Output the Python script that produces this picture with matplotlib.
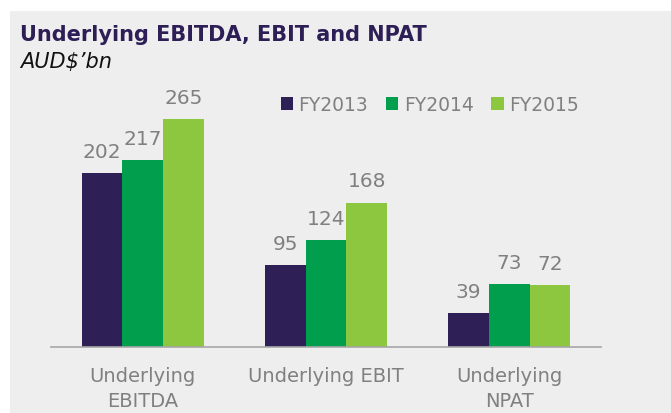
import matplotlib
matplotlib.use("Agg")
import matplotlib.pyplot as plt
from matplotlib.patches import Rectangle
import numpy as np

categories = ["Underlying\nEBITDA", "Underlying EBIT", "Underlying\nNPAT"]
series_names = ["FY2013", "FY2014", "FY2015"]
fy2013 = [202, 95, 39]
fy2014 = [217, 124, 73]
fy2015 = [265, 168, 72]
colors = ["#2e1f56", "#009e4d", "#8dc63f"]

W, H = 671, 414
fig = plt.figure(figsize=(W / 100, H / 100), dpi=100)
fig.patch.set_facecolor("white")
bg = Rectangle((10 / W, 0), 1, (H - 12) / H, transform=fig.transFigure,
               facecolor="#eeeeee", edgecolor="none", zorder=-10)
fig.add_artist(bg)

ax = fig.add_axes([51 / W, (H - 348) / H, 550 / W, 258 / H])
ax.set_facecolor("none")
ax.set_zorder(1)

x = np.arange(len(categories))
bw = 0.222
tc = "#808080"
for i, (vals, name, c) in enumerate(zip([fy2013, fy2014, fy2015], series_names, colors)):
    pos = x + (i - 1) * bw
    ax.bar(pos, vals, width=bw, color=c, label=name, zorder=2)
    for p, v in zip(pos, vals):
        ax.text(p, v + 14, str(v), ha="center", va="bottom", fontsize=14.5, color=tc)

ax.set_xlim(-0.5, 2.5)
ax.set_ylim(0, 300)
ax.set_yticks([])
for s in ["left", "right", "top"]:
    ax.spines[s].set_visible(False)
ax.spines["bottom"].set_color("#a6a6a6")
ax.spines["bottom"].set_linewidth(1.2)
ax.set_xticks(x)
ax.set_xticklabels(categories, fontsize=14, color=tc, linespacing=1.35)
ax.tick_params(axis="x", length=0, pad=14)

leg = ax.legend(loc="upper left", bbox_to_anchor=(222 / 550, 1.005), ncol=3, frameon=False,
                fontsize=13.5, handlelength=0.65, handleheight=0.65, handletextpad=0.3,
                columnspacing=0.95, borderaxespad=0)
for t in leg.get_texts():
    t.set_color(tc)

fig.text(20 / W, 1 - 35 / H, "Underlying EBITDA, EBIT and NPAT", fontsize=15,
         fontweight="bold", color="#2d1e55", ha="left", va="center")
fig.text(20 / W, 1 - 62 / H, "AUD$\u2019bn", fontsize=15, fontstyle="italic",
         color="#111111", ha="left", va="center")

fig.savefig("out.png", dpi=100, facecolor=fig.get_facecolor())
